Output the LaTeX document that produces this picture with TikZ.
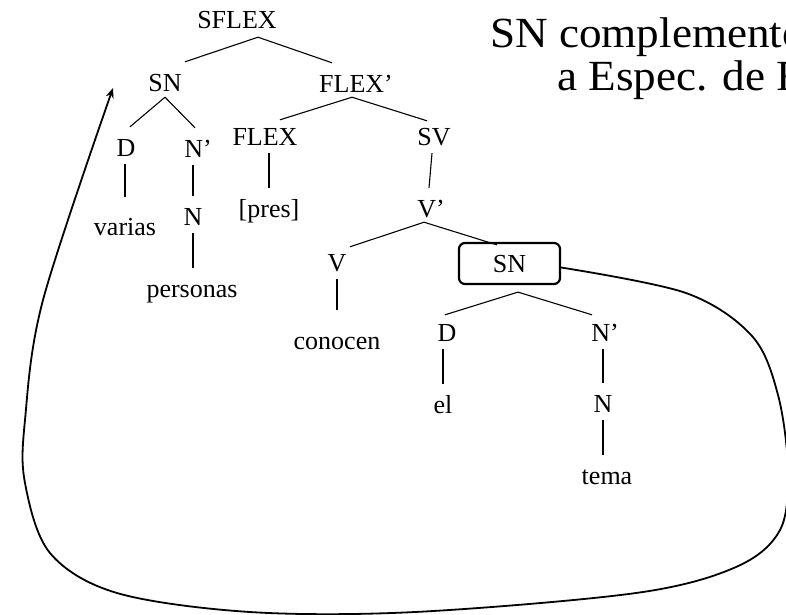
\documentclass[tikz,border=0pt]{standalone}
\usepackage{fontspec}
\setmainfont{Liberation Serif}
\usetikzlibrary{arrows.meta}
\newfontfamily\titlefnt[FakeStretch=1.05]{Liberation Serif}
\begin{document}
\begin{tikzpicture}[x=1pt,y=-1pt,
  cat/.style={anchor=base,inner sep=0pt,text height=29pt,text depth=8pt,font=\fontsize{26}{30}\selectfont},
  tall/.style={cat,text height=38pt},
  boxnode/.style={draw,line width=2.2pt,rounded corners=6pt,inner sep=0pt,minimum width=101pt,minimum height=41pt,text height=17pt,text depth=0pt,font=\fontsize{26}{30}\selectfont},
  branch/.style={line width=1.1pt},
  move/.style={line width=1.8pt,-{Stealth[length=10pt,width=8pt]}},
  ttl/.style={anchor=base west,inner sep=0pt,font=\titlefnt\fontsize{43}{43}\selectfont}]
\useasboundingbox (0,0) rectangle (786,614);
\clip (0,0) rectangle (786,614);
% title
\node[ttl] (t1) at (490,47) {SN complemento};
\node[ttl] (t2) at (557,90) {a Espec. de F};
% tree nodes
\node[cat] (sflex) at (237,28) {SFLEX};
\node[cat] (sn1) at (165,91) {SN};
\node[cat] (flexp) at (356,92) {FLEX’};
\node[cat] (d1) at (126,156) {D};
\node[cat] (np1) at (198,157) {N’};
\node[tall] (varias) at (125,235) {varias};
\node[cat] (n1) at (193,225) {N};
\node[cat] (personas) at (192,297) {personas};
\node[cat] (flex) at (265,145) {FLEX};
\node[cat] (sv) at (434,145) {SV};
\node[cat] (pres) at (269,217) {[pres]};
\node[cat] (vp) at (431,217) {V’};
\node[cat] (v) at (337,271) {V};
\node[tall,text height=39pt] (conocen) at (337,349) {conocen};
\node[boxnode] (sn2) at (509.5,263.5) {SN};
\node[cat] (d2) at (447,341) {D};
\node[cat] (np2) at (605,341) {N’};
\node[cat] (el) at (443,413) {el};
\node[cat] (n2) at (603,412) {N};
\node[cat] (tema) at (607,484) {tema};
\coordinate (tip) at (113,88);
% branches
\draw[branch] ([xshift=21pt,yshift=-1pt]sflex.south) -- ([xshift=20pt]sn1.north);
\draw[branch] ([xshift=21pt,yshift=-1pt]sflex.south) -- ([xshift=-24pt]flexp.north);
\draw[branch] ([yshift=2pt]sn1.south) -- ([xshift=4pt]d1.north);
\draw[branch] ([yshift=2pt]sn1.south) -- ([xshift=-3pt]np1.north);
\draw[branch] (d1.south -| varias.north) -- (varias.north);
\draw[branch] (np1.south -| n1.north) -- (n1.north);
\draw[branch] (n1.south) -- (n1.south |- personas.north);
\draw[branch] ([xshift=-4pt,yshift=3pt]flexp.south) -- ([xshift=15pt,yshift=-4pt]flex.north);
\draw[branch] ([xshift=-4pt,yshift=3pt]flexp.south) -- ([xshift=-7pt,yshift=-5pt]sv.north);
\draw[branch] (flex.south -| pres.north) -- (pres.north);
\draw[branch] ([xshift=-2pt]sv.south) -- ([xshift=-2pt]vp.north);
\draw[branch] ([xshift=-7pt,yshift=3pt]vp.south) -- ([xshift=13pt,yshift=-5pt]v.north);
\draw[branch] ([xshift=-7pt,yshift=3pt]vp.south) -- ([xshift=-12.5pt,yshift=-3pt]sn2.north);
\draw[branch] (v.south) -- (conocen.north);
\draw[branch] ([xshift=8.5pt,yshift=-7pt]sn2.south) -- ([xshift=-2pt,yshift=-3pt]d2.north);
\draw[branch] ([xshift=8.5pt,yshift=-7pt]sn2.south) -- ([xshift=-13pt,yshift=-3pt]np2.north);
\draw[branch] (d2.south -| el.north) -- (el.north);
\draw[branch] (np2.south -| n2.north) -- (n2.north);
\draw[branch] (n2.south) -- (n2.south |- tema.north);
% movement curve
\draw[move] plot[smooth,tension=0.55] coordinates {([yshift=-4pt]sn2.east) (686,293) (752,336) (778,395) (788,470) (780,530) (736,567) (636,593) (415,612) (250,612) (117,593) (50,553) (25,483) (25,420) (43,300) (tip)};
\end{tikzpicture}
\end{document}
